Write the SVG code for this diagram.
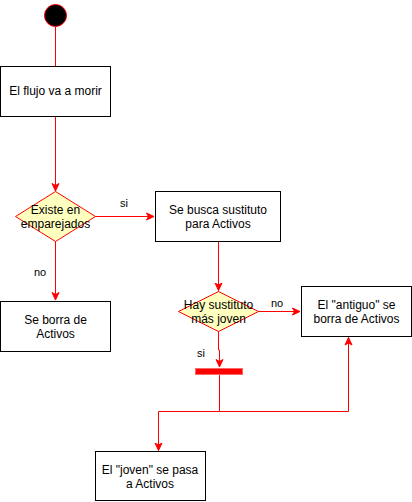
<svg xmlns="http://www.w3.org/2000/svg" width="412" height="502" viewBox="0 0 412 502">
<style>
.box{fill:#ffffff;stroke:#000000;stroke-width:1}
.dia{fill:#ffffc0;stroke:#ff0000;stroke-width:1}
.t{font-family:"Liberation Sans",Arial,sans-serif;font-size:12px;fill:#000000;text-anchor:middle}
.lbl{font-family:"Liberation Sans",Arial,sans-serif;font-size:11px;fill:#000000;text-anchor:middle}
.c{fill:none;stroke:#ff0000;stroke-width:1}
</style>
<defs>
<marker id="arr" markerWidth="10" markerHeight="10" refX="8" refY="5" orient="auto" markerUnits="userSpaceOnUse">
<path d="M0.5,1.5 L8,5 L0.5,8.5 L2.5,5 z" fill="#ff0000" stroke="#ff0000" stroke-width="1"/>
</marker>
</defs>
<g id="connectors">
<path class="c" d="M55.5,27 V66"/>
<path class="c" d="M55.5,116 V191" marker-end="url(#arr)"/>
<path class="c" d="M95,216.5 H154" marker-end="url(#arr)"/>
<path class="c" d="M55.5,241 V300" marker-end="url(#arr)"/>
<path class="c" d="M218.5,241 V290.5" marker-end="url(#arr)"/>
<path class="c" d="M258.5,311.5 H300" marker-end="url(#arr)"/>
<path class="c" d="M218.5,331 V350 H219.5 V367" marker-end="url(#arr)"/>
<path class="c" d="M219.5,374 V411.5 H158.5 V450.5" marker-end="url(#arr)"/>
<path class="c" d="M219.5,411.5 H348.5 V337.5" marker-end="url(#arr)"/>
<text class="lbl" x="124" y="207">si</text>
<text class="lbl" x="40" y="276">no</text>
<text class="lbl" x="277" y="307">no</text>
<text class="lbl" x="201" y="357">si</text>
</g>
<g id="start">
<circle cx="55.5" cy="15.5" r="11" fill="#000000" stroke="#ff0000" stroke-width="1"/>
</g>
<g id="flujo">
<rect class="box" x="0.5" y="66.5" width="110" height="50"/>
<text class="t" x="55.5" y="95">El flujo va a morir</text>
</g>
<g id="existe">
<path class="dia" d="M55.5,191.5 L95.5,216.5 L55.5,241.5 L15.5,216.5 Z"/>
<text class="t" x="55.5" y="214">Existe en</text>
<text class="t" x="55.5" y="227.5">emparejados</text>
</g>
<g id="busca">
<rect class="box" x="155.5" y="191.5" width="125" height="50"/>
<text class="t" x="218" y="214">Se busca sustituto</text>
<text class="t" x="218" y="227.5">para Activos</text>
</g>
<g id="borra">
<rect class="box" x="0.5" y="301.5" width="110" height="50"/>
<text class="t" x="55.5" y="324">Se borra de</text>
<text class="t" x="55.5" y="337.5">Activos</text>
</g>
<g id="hay">
<path class="dia" d="M218.5,291.5 L258.5,311.5 L218.5,331.5 L178.5,311.5 Z"/>
<text class="t" x="218.5" y="309">Hay sustituto</text>
<text class="t" x="218.5" y="323">más joven</text>
</g>
<g id="antiguo">
<rect class="box" x="301.5" y="286.5" width="110" height="50"/>
<text class="t" x="356.5" y="309">El "antiguo" se</text>
<text class="t" x="356.5" y="323">borra de Activos</text>
</g>
<g id="bar">
<rect x="195.5" y="368.5" width="47" height="6" fill="#ff0000" stroke="#ff6666" stroke-width="1"/>
</g>
<g id="joven">
<rect class="box" x="95.5" y="451.5" width="110" height="49"/>
<text class="t" x="150" y="474">El "joven" se pasa</text>
<text class="t" x="150" y="488">a Activos</text>
</g>
</svg>
